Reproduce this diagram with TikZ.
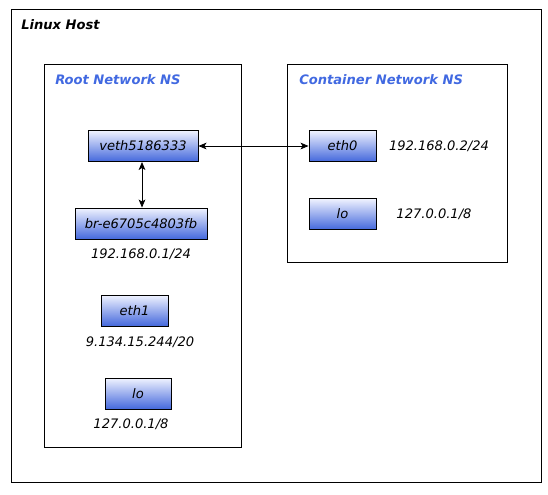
\documentclass[tikz,border=0pt]{standalone}
\usepackage{fontspec}
\setmainfont{DejaVu Sans}
\usetikzlibrary{arrows.meta}
\definecolor{nsblue}{HTML}{4169E1}
\definecolor{boxtop}{HTML}{F0F3FF}
\definecolor{boxbot}{HTML}{4468DC}
\tikzset{
  px/.style={x=0.75pt,y=-0.75pt},
  frame/.style={draw=black,line width=0.7pt},
  ifbox/.style={draw=black,line width=0.7pt,top color=boxtop,bottom color=boxbot,
    minimum height=23.25pt,inner sep=0pt,font=\fontsize{9.8pt}{11pt}\selectfont\itshape},
  lbl/.style={inner sep=0pt,font=\fontsize{9.8pt}{11pt}\selectfont\itshape},
  ttl/.style={inner sep=0pt,anchor=west,font=\fontsize{9.8pt}{11pt}\selectfont\bfseries\itshape},
  link/.style={line width=0.6pt,{Stealth[length=6pt,width=5pt,inset=1.5pt]}-{Stealth[length=6pt,width=5pt,inset=1.5pt]}}
}
\begin{document}
\begin{tikzpicture}[px]
\useasboundingbox (0,0) rectangle (548,494);
% frames
\draw[frame] (11,9) rectangle (541,482);
\draw[frame] (44,64) rectangle (241,447);
\draw[frame] (287,64) rectangle (507,262);
% titles
\node[ttl] (host) at (21,25) {Linux Host};
\node[ttl,text=nsblue] (rootns) at (55,80) {Root Network NS};
\node[ttl,text=nsblue] (contns) at (299,80) {Container Network NS};
% root ns interfaces
\node[ifbox,minimum width=82.5pt] (veth) at (143,146) {veth5186333};
\node[ifbox,minimum width=99pt] (br) at (141,223.5) {br-e6705c4803fb};
\node[lbl] (brip) at (141,254) {192.168.0.1/24};
\node[ifbox,minimum width=50.25pt] (eth1) at (134.5,310.5) {eth1};
\node[lbl] (eth1ip) at (140,342) {9.134.15.244/20};
\node[ifbox,minimum width=49.5pt] (lor) at (138,393.5) {lo};
\node[lbl] (lorip) at (131,424) {127.0.0.1/8};
% container ns interfaces
\node[ifbox,minimum width=50.25pt] (eth0) at (342.5,146) {eth0};
\node[lbl] (eth0ip) at (439,146) {192.168.0.2/24};
\node[ifbox,minimum width=50.25pt] (loc) at (342.5,214) {lo};
\node[lbl] (locip) at (434,214) {127.0.0.1/8};
% links
\coordinate (vb) at ([xshift=-0.75pt]veth.south);
\draw[link] (veth.east) -- (eth0.west);
\draw[link] (vb) -- (vb |- br.north);
\end{tikzpicture}
\end{document}
